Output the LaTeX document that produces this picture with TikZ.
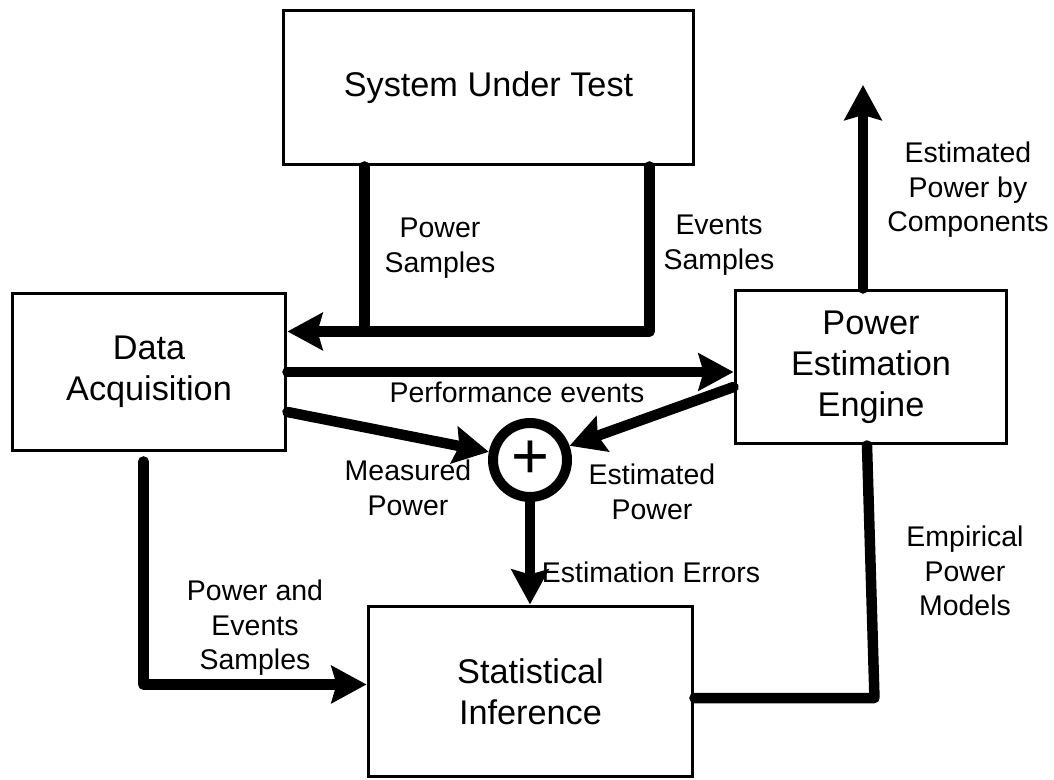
\documentclass[tikz,border=0pt]{standalone}
\usepackage{fontspec}
\setmainfont{Liberation Sans}
\usetikzlibrary{arrows.meta,calc}
\begin{document}
\begin{tikzpicture}[x=0.02cm,y=-0.02cm,
  box/.style={draw,line width=1.7pt,inner sep=0pt,align=center,font=\fontsize{19.5}{23.3}\selectfont},
  lbl/.style={align=center,inner sep=0pt,font=\fontsize{16.2}{19.6}\selectfont},
  conn/.style={line width=0.21cm,line cap=round,line join=round},
  tip/.style={-{Stealth[length=0.7cm,width=0.74cm,inset=0.1cm,line join=miter]}}]
\useasboundingbox (0,0) rectangle (1054,780);
\node[box,minimum width=8.22cm,minimum height=3.1cm] (sut) at (488.5,87.5) {System Under Test};
\node[box,minimum width=5.48cm,minimum height=3.16cm] (da) at (149,372) {Data\\Acquisition};
\node[box,minimum width=5.44cm,minimum height=3.08cm] (pee) at (871,367) {Power\\Estimation\\Engine};
\node[box,minimum width=6.5cm,minimum height=3.42cm] (si) at (530.5,691.5) {Statistical\\Inference};
\node[draw,circle,line width=0.2cm,minimum size=1.48cm,inner sep=0pt,font=\fontsize{37}{37}\selectfont] (sum) at (530,460) {+};
\coordinate (out) at (863,85);
% SUT -> Data Acquisition
\draw[conn] ([shift={(83,0)}]sut.south west) -- ++(0,165);
\draw[conn,tip] ([shift={(368,0)}]sut.south west) -- ++(0,165) coordinate (c1) -- (c1 -| da.east);
% Performance events
\draw[conn,tip] (da.east) -- (da.east -| pee.west);
% Measured power
\draw[conn,tip] ([shift={(0,40)}]da.east) -- (sum);
% Estimated power
\draw[conn,tip] ([shift={(0,20)}]pee.west) -- (sum);
% Estimation errors
\draw[conn,tip] (sum) -- (sum |- si.north);
% Power and events samples
\draw[conn,tip] ([shift={(133,9)}]da.south west) -- ++(0,223) coordinate (c2) -- (c2 -| si.west);
% Empirical power models
\draw[conn] ([shift={(0,6.5)}]si.east) -- ++(180,0) -- ([shift={(-4,0)}]pee.south);
% Output
\draw[conn,tip] ([shift={(-8,0)}]pee.north) -- (out);
% Labels
\node[lbl] (l1) at (440,248) {Power\\Samples};
\node[lbl] (l2) at (719,245) {Events\\Samples};
\node[lbl] (l3) at (968,190) {Estimated\\Power by\\Components};
\node[lbl] (l4) at (517,392) {Performance events};
\node[lbl] (l5) at (408,488) {Measured\\Power};
\node[lbl] (l6) at (652,492) {Estimated\\Power};
\node[lbl] (l7) at (651,572) {Estimation Errors};
\node[lbl] (l8) at (965,571) {Empirical\\Power\\Models};
\node[lbl] (l9) at (255,628) {Power and\\Events\\Samples};
\end{tikzpicture}
\end{document}
